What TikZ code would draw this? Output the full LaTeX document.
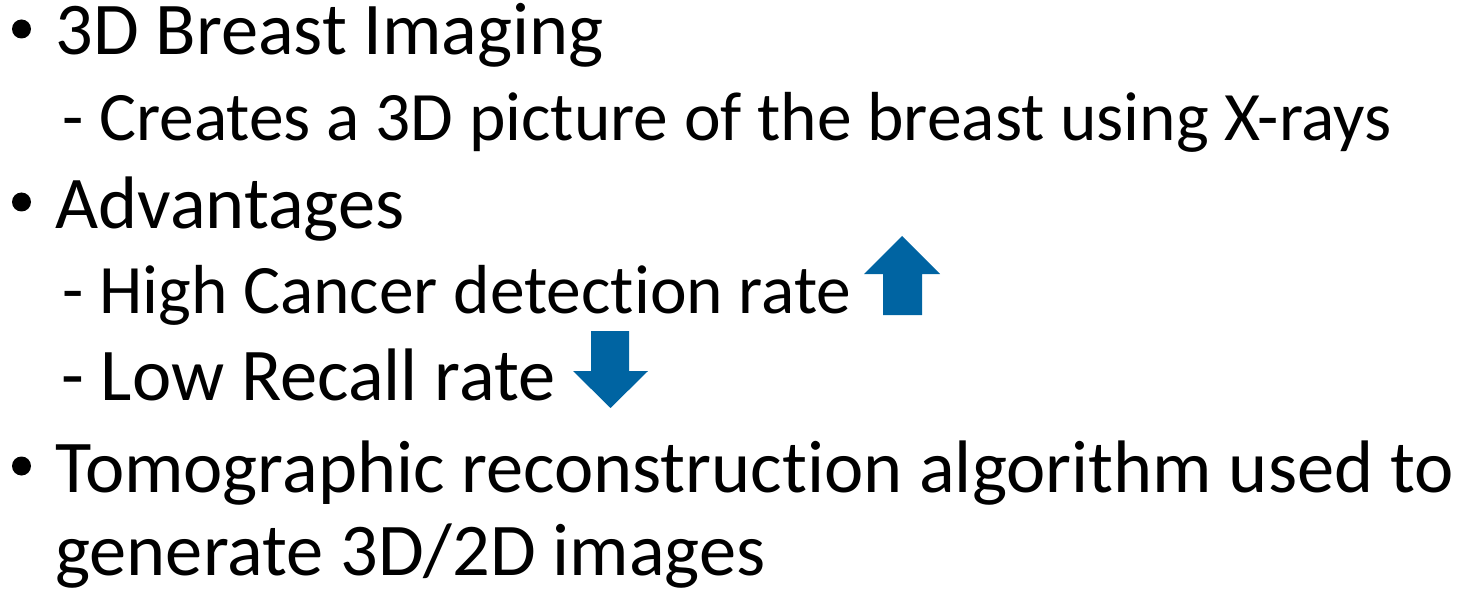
\documentclass[tikz,border=0pt]{standalone}
\usepackage{fontspec}
\setmainfont{Carlito}[Ligatures={NoCommon}]
\usepackage{xcolor}
\definecolor{arrowblue}{RGB}{0,100,162}
\usetikzlibrary{positioning}

\begin{document}
\begin{tikzpicture}[x=0.5pt,y=-0.5pt,
    lvlone/.style={anchor=base west,inner sep=0pt,font=\fontsize{37.2}{44}\selectfont},
    lvltwo/.style={anchor=base west,inner sep=0pt,font=\fontsize{34.7}{41}\selectfont},
    dot/.style={circle,fill=black,inner sep=0pt,minimum size=9.5pt},
    blockarrow/.style={fill=arrowblue,draw=none}]
      \useasboundingbox (0,0) rectangle (1460,593);

      \node[lvlone] (t1) at (55,55) {3D Breast Imaging};
      \node[lvltwo] (t2) at (62,141) {- Creates a 3D picture of the breast using X-rays};
      \node[lvlone] (t3) at (55,228) {Advantages};
      \node[lvltwo] (t4) at (62,313) {- High Cancer detection rate};
      \node[lvlone] (t5) at (61,400) {- Low Recall rate};
      \node[lvlone] (t6) at (55,492) {Tomographic reconstruction algorithm used to};
      \node[lvlone] (t7) at (55,575) {generate 3D/2D images};

      \node[dot] (b1) at (21.5,29) {};
      \node[dot] (b2) at (21.5,202) {};
      \node[dot] (b3) at (21.5,466) {};

      \fill[blockarrow] (902,236) -- (940,274) -- (922,274) -- (922,315)
        -- (883,315) -- (883,274) -- (864,274) -- cycle;
      \fill[blockarrow] (591,331) -- (629,331) -- (629,371) -- (648,371)
        -- (610.5,408) -- (573,371) -- (591,371) -- cycle;
    \end{tikzpicture}
\end{document}
